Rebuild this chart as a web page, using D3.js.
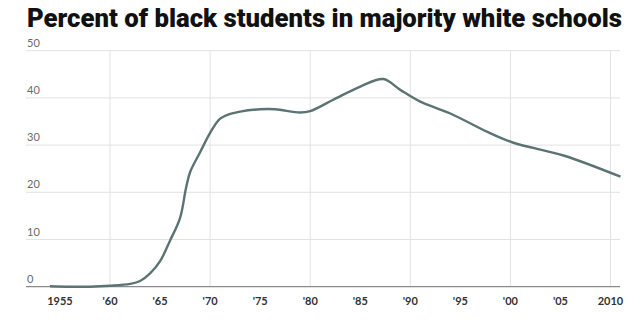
<!DOCTYPE html>
<html><head><meta charset="utf-8">
<script src="https://cdn.jsdelivr.net/npm/d3@7"></script>
<style>body{margin:0;background:#fff}svg{display:block}</style>
</head><body>
<script>
const title = "Percent of black students in majority white schools";
const years = [1954,1956,1958,1960,1962,1963,1964,1965,1966,1967,1967.6,1968,1969,1970,1971,1972,1973,1975,1976.5,1979,1980,1982.3,1985,1987.3,1989,1991,1994,1997.7,2000.3,2005.3,2011];
const values = [0.1,0.0,0.0,0.2,0.6,1.2,2.8,5.4,9.8,14.6,21.0,24.3,28.5,32.6,35.6,36.6,37.1,37.6,37.6,36.9,37.2,39.6,42.4,44.0,41.7,39.2,36.7,32.8,30.5,27.8,23.3];
const xTickYears = [1955,1960,1965,1970,1975,1980,1985,1990,1995,2000,2005,2010];
const xTickLabels = ["1955","'60","'65","'70","'75","'80","'85","'90","'95","'00","'05","2010"];
const vGridYears = [1960,1970,1980,1990,2000,2010];
const yTicks = [0,10,20,30,40,50];

const W=640,H=322;
const svg=d3.select("body").append("svg").attr("width",W).attr("height",H);
const x=d3.scaleLinear().domain([1955,2010]).range([60,610.5]);
const y=d3.scaleLinear().domain([0,50]).range([286.7,50.7]);

svg.append("text").attr("x",27).attr("y",27).text(title)
  .attr("font-family","Roboto, 'Liberation Sans', sans-serif").attr("font-weight",900)
  .attr("font-size",26).attr("fill","#111")
  .attr("textLength",595).attr("lengthAdjust","spacingAndGlyphs");

svg.append("g").selectAll("line").data(yTicks.filter(d=>d>0)).join("line")
  .attr("x1",26).attr("x2",620).attr("y1",d=>y(d)).attr("y2",d=>y(d))
  .attr("stroke","#e2e2e2").attr("stroke-width",1);
svg.append("g").selectAll("line").data(vGridYears).join("line")
  .attr("x1",d=>x(d)).attr("x2",d=>x(d)).attr("y1",y(50)).attr("y2",y(0))
  .attr("stroke","#e2e2e2").attr("stroke-width",1);
svg.append("line").attr("x1",26).attr("x2",620).attr("y1",y(0)).attr("y2",y(0))
  .attr("stroke","#8a8a8a").attr("stroke-width",1.2);

svg.append("g").selectAll("text").data(yTicks).join("text")
  .attr("x",27).attr("y",d=>y(d)-4).text(d=>d)
  .attr("font-family","Lato, 'Open Sans', sans-serif").attr("font-size",11).attr("fill","#6a6a6a");
svg.append("g").selectAll("text").data(xTickYears).join("text")
  .attr("x",d=>x(d)).attr("y",305).attr("text-anchor","middle").text((d,i)=>xTickLabels[i])
  .attr("font-family","Lato, 'Open Sans', sans-serif").attr("font-weight",700).attr("font-size",11).attr("fill","#333");

const data=years.map((yr,i)=>({yr,v:values[i]}));
svg.append("path").datum(data)
  .attr("d",d3.line().x(d=>x(d.yr)).y(d=>y(d.v)).curve(d3.curveCatmullRom.alpha(0.5)))
  .attr("fill","none").attr("stroke","#5b7373").attr("stroke-width",2.4).attr("stroke-linejoin","round");
</script>
</body></html>
